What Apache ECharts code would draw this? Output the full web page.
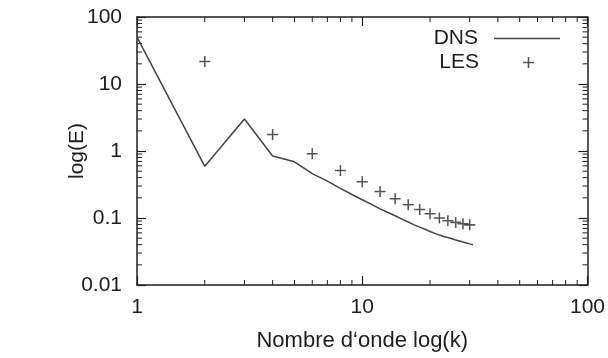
<!DOCTYPE html>
<html>
<head>
<meta charset="utf-8">
<script src="https://cdn.jsdelivr.net/npm/echarts@6/dist/echarts.min.js"></script>
<style>
  html, body { margin: 0; padding: 0; background: #fff; }
  #chart { width: 608px; height: 358px; }
</style>
</head>
<body>
<div id="chart"></div>
<script>
// Energy spectrum: DNS curve vs LES samples (log-log)
const kDNS = [1, 2, 3, 4, 5, 6, 7, 8, 9, 10, 11, 12, 13, 14, 15, 16, 17, 18, 19, 20,
              21, 22, 23, 24, 25, 26, 27, 28, 29, 30, 31];
const eDNS = [50, 0.59, 3.0, 0.84, 0.69, 0.46, 0.355, 0.277, 0.224, 0.187, 0.16, 0.137,
              0.121, 0.108, 0.096, 0.087, 0.079, 0.073, 0.068, 0.063, 0.059, 0.0556,
              0.053, 0.051, 0.049, 0.047, 0.0454, 0.0438, 0.0424, 0.0411, 0.040];

const kLES = [2, 4, 6, 8, 10, 12, 14, 16, 18, 20, 22, 24, 26, 28, 30];
const eLES = [21.7, 1.76, 0.91, 0.51, 0.347, 0.249, 0.194, 0.158, 0.134, 0.116,
              0.100, 0.091, 0.086, 0.082, 0.079];

// Minor tick positions (gnuplot-style log ticks)
const xMinorTicks = [2, 3, 4, 5, 6, 7, 8, 9, 20, 30, 40, 50, 60, 70, 80, 90];
const yMinorTicks = [0.02, 0.03, 0.04, 0.05, 0.06, 0.07, 0.08, 0.09,
                     0.2, 0.3, 0.4, 0.5, 0.6, 0.7, 0.8, 0.9,
                     2, 3, 4, 5, 6, 7, 8, 9,
                     20, 30, 40, 50, 60, 70, 80, 90];

const xRange = [1, 100];
const yRange = [0.01, 100];

const FONT = '"Liberation Sans", Arial, Helvetica, sans-serif';
const INK = '#1e1e1e';
const MAJOR = 9;
const MINOR = 5;
const PLUS = 'path://M4.3,0H5.7V4.3H10V5.7H5.7V10H4.3V5.7H0V4.3H4.3Z';

function fmt(v) { return String(Number(v.toPrecision(1))); }

const chart = echarts.init(document.getElementById('chart'), null, { renderer: 'canvas' });

function axisBase(pos, range, show) {
  return {
    type: 'log', logBase: 10, min: range[0], max: range[1], position: pos,
    axisLine: { show: true, onZero: false, lineStyle: { color: INK, width: 1.5 } },
    axisTick: { show: true, inside: true, length: MAJOR, lineStyle: { color: INK, width: 1.2 } },
    splitLine: { show: false },
    axisLabel: { show: show, color: INK, fontFamily: FONT, fontSize: 21, formatter: fmt }
  };
}

const xBottom = Object.assign(axisBase('bottom', xRange, true), {
  name: 'Nombre d\u2018onde log(k)', nameLocation: 'middle', nameGap: 45,
  nameMoveOverlap: false,
  nameTextStyle: { color: INK, fontFamily: FONT, fontSize: 22 }
});
xBottom.axisLabel.margin = 12;
const yLeft = Object.assign(axisBase('left', yRange, true), {
  name: 'log(E)', nameLocation: 'middle', nameGap: 49,
  nameMoveOverlap: false,
  nameTextStyle: { color: INK, fontFamily: FONT, fontSize: 21 }
});
yLeft.axisLabel.margin = 15;

chart.setOption({
  backgroundColor: '#ffffff',
  animation: false,
  grid: { left: 137, right: 20, top: 17, bottom: 73, containLabel: false },
  xAxis: [xBottom, axisBase('top', xRange, false)],
  yAxis: [yLeft, axisBase('right', yRange, false)],
  legend: [
    {
      data: [{ name: 'DNS', icon: 'rect' }], right: 43, top: 23, orient: 'vertical', align: 'right',
      itemWidth: 66, itemHeight: 1.6,
      textStyle: { color: INK, fontFamily: FONT, fontSize: 21, padding: [0, 11, 0, 0] }
    },
    {
      data: [{ name: 'LES', icon: PLUS }], right: 69, top: 47, orient: 'vertical', align: 'right',
      itemWidth: 11, itemHeight: 11,
      textStyle: { color: INK, fontFamily: FONT, fontSize: 21, padding: [0, 39, 0, 0] }
    }
  ],
  series: [
    {
      name: 'DNS', type: 'line', xAxisIndex: 0, yAxisIndex: 0,
      data: kDNS.map((k, i) => [k, eDNS[i]]),
      symbol: 'none', smooth: false,
      lineStyle: { color: '#444', width: 1.5 },
      itemStyle: { color: '#444' }
    },
    {
      name: 'LES', type: 'scatter', xAxisIndex: 0, yAxisIndex: 0,
      data: kLES.map((k, i) => [k, eLES[i]]),
      symbol: PLUS, symbolSize: 11,
      itemStyle: { color: '#2a2a2a' }
    },
    {
      // minor ticks on bottom and top edges
      type: 'custom', xAxisIndex: 0, yAxisIndex: 0, silent: true,
      data: xMinorTicks.map(v => [v, 1]),
      renderItem: function (params, api) {
        const cs = params.coordSys;
        const x = api.coord([api.value(0), 1])[0];
        const st = { stroke: INK, lineWidth: 1 };
        return { type: 'group', children: [
          { type: 'line', shape: { x1: x, y1: cs.y + cs.height, x2: x, y2: cs.y + cs.height - MINOR }, style: st },
          { type: 'line', shape: { x1: x, y1: cs.y, x2: x, y2: cs.y + MINOR }, style: st }
        ]};
      }
    },
    {
      // minor ticks on left and right edges
      type: 'custom', xAxisIndex: 0, yAxisIndex: 0, silent: true,
      data: yMinorTicks.map(v => [1, v]),
      renderItem: function (params, api) {
        const cs = params.coordSys;
        const y = api.coord([1, api.value(1)])[1];
        const st = { stroke: INK, lineWidth: 1 };
        return { type: 'group', children: [
          { type: 'line', shape: { x1: cs.x, y1: y, x2: cs.x + MINOR, y2: y }, style: st },
          { type: 'line', shape: { x1: cs.x + cs.width, y1: y, x2: cs.x + cs.width - MINOR, y2: y }, style: st }
        ]};
      }
    }
  ]
});
</script>
</body>
</html>
